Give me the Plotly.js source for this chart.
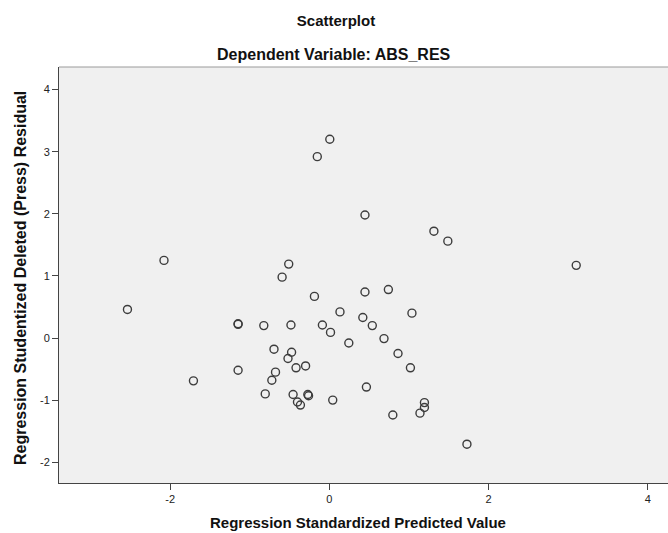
<!DOCTYPE html>
<html>
<head>
<meta charset="utf-8">
<script src="https://cdn.plot.ly/plotly-3.0.1.min.js"></script>
<style>html,body{margin:0;padding:0;background:#fff;}#chart{width:668px;height:533px;}</style>
</head>
<body>
<div id="chart"></div>
<script>
// Regression Standardized Predicted Value
const predicted = [-2.536, -2.077, -1.707, -1.146, -1.146, -1.146, -0.823, -0.805, -0.722, -0.695,
  -0.676, -0.593, -0.510, -0.519, -0.482, -0.474, -0.455, -0.418, -0.400, -0.363,
  -0.298, -0.270, -0.261, -0.187, -0.151, -0.087, 0.006, 0.015, 0.043, 0.134,
  0.245, 0.421, 0.448, 0.448, 0.466, 0.540, 0.687, 0.742, 0.798, 0.863,
  1.019, 1.038, 1.139, 1.195, 1.195, 1.314, 1.489, 1.729, 3.102];
// Regression Studentized Deleted (Press) Residual
const residual = [0.46, 1.25, -0.69, 0.22, 0.23, -0.52, 0.20, -0.90, -0.68, -0.18,
  -0.55, 0.98, 1.19, -0.33, 0.21, -0.23, -0.91, -0.48, -1.03, -1.08,
  -0.45, -0.91, -0.93, 0.67, 2.92, 0.21, 3.20, 0.09, -1.00, 0.42,
  -0.08, 0.33, 1.98, 0.74, -0.79, 0.20, -0.01, 0.78, -1.24, -0.25,
  -0.48, 0.40, -1.21, -1.04, -1.12, 1.72, 1.56, -1.71, 1.17];
const xTicks = [-2, 0, 2, 4];
const yTicks = [-2, -1, 0, 1, 2, 3, 4];

const FONT = 'Liberation Sans, Arial, sans-serif';
const trace = {
  type: 'scatter', mode: 'markers', x: predicted, y: residual,
  marker: {symbol: 'circle-open', size: 8, color: '#3c3c3c', line: {width: 1.4, color: '#3c3c3c'}},
  hoverinfo: 'x+y', showlegend: false
};
const L = 59, W = 668, H = 533, T = 67, B = 50;
const pw = W - L, ph = H - T - B;
function px(v) { return (v - L) / pw; }
function py(v) { return 1 - (v - T) / ph; }
const layout = {
  width: W, height: H,
  margin: {l: L, r: 0, t: T, b: B, pad: 0},
  paper_bgcolor: '#ffffff', plot_bgcolor: '#f0f0f0',
  font: {family: FONT, color: '#222'},
  title: {text: '<b>Scatterplot</b>', font: {family: FONT, size: 15, color: '#111'},
          x: 336 / W, xref: 'container', xanchor: 'center', y: 1 - 21 / H, yref: 'container', yanchor: 'middle'},
  xaxis: {range: [-3.396, 4.255], tickvals: xTicks, ticktext: xTicks.map(String),
          showline: true, linecolor: '#444', linewidth: 1, ticks: 'outside', ticklen: 6,
          tickcolor: '#444', tickwidth: 1, showgrid: false, zeroline: false,
          tickfont: {family: FONT, size: 11, color: '#222'}, fixedrange: true},
  yaxis: {range: [-2.335, 4.364], tickvals: yTicks, ticktext: yTicks.map(String),
          showline: true, linecolor: '#444', linewidth: 1, ticks: 'outside', ticklen: 6,
          tickcolor: '#444', tickwidth: 1, showgrid: false, zeroline: false,
          tickfont: {family: FONT, size: 11, color: '#222'}, fixedrange: true},
  shapes: [{type: 'line', xref: 'paper', yref: 'paper', x0: 0, x1: 1, y0: 1, y1: 1,
            line: {color: '#9a9a9a', width: 1}}],
  annotations: [
    {text: '<b>Dependent Variable: ABS_RES</b>', xref: 'paper', yref: 'paper',
     x: px(334), y: py(54), xanchor: 'center', yanchor: 'middle',
     showarrow: false, font: {family: FONT, size: 16, color: '#111'}},
    {text: '<b>Regression Standardized Predicted Value</b>', xref: 'paper', yref: 'paper',
     x: px(358), y: py(522), xanchor: 'center', yanchor: 'middle',
     showarrow: false, font: {family: FONT, size: 15, color: '#111'}},
    {text: '<b>Regression Studentized Deleted (Press) Residual</b>', xref: 'paper', yref: 'paper',
     x: px(20), y: py(278), xanchor: 'center', yanchor: 'middle',
     textangle: -90, showarrow: false, font: {family: FONT, size: 16, color: '#111'}}
  ]
};
Plotly.newPlot('chart', [trace], layout, {displayModeBar: false, staticPlot: true});
</script>
</body>
</html>
